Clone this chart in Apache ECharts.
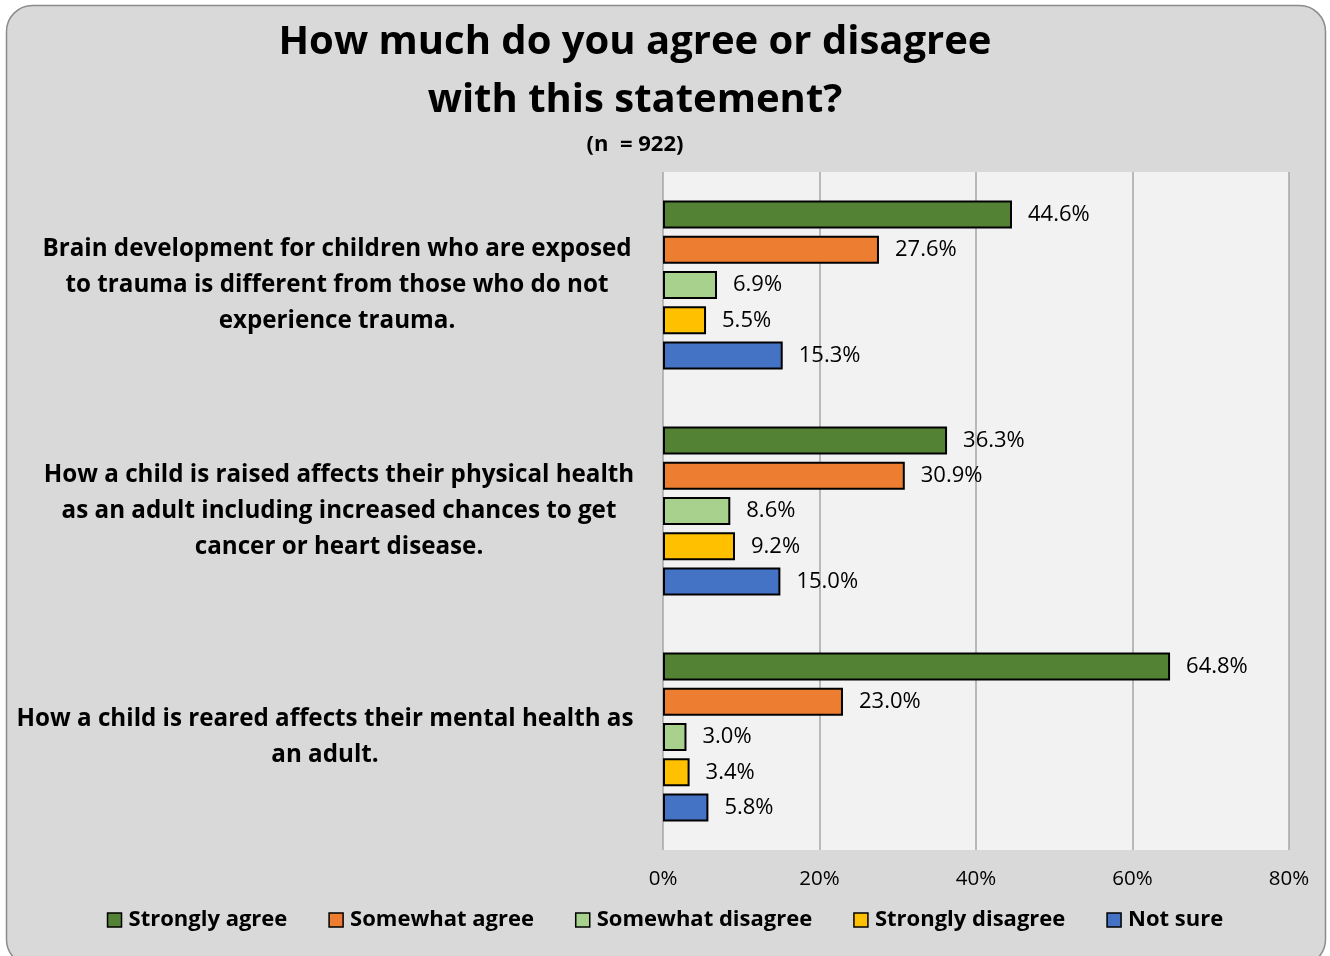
<!DOCTYPE html>
<html>
<head>
<meta charset="utf-8">
<script src="https://cdn.jsdelivr.net/npm/echarts@6/dist/echarts.min.js"></script>
<style>
  html, body { margin: 0; padding: 0; background: #ffffff; }
  #chart { width: 1330px; height: 956px; }
</style>
</head>
<body>
<div id="chart"></div>
<script>
// Survey statements (category axis, top to bottom)
const statements = [
  'Brain development for children who are exposed\nto trauma is different from those who do not\nexperience trauma.',
  'How a child is raised affects their physical health\nas an adult including increased chances to get\ncancer or heart disease.',
  'How a child is reared affects their mental health as\nan adult.'
];

// Response shares (%) per statement
const stronglyAgree     = [44.6, 36.3, 64.8];
const somewhatAgree     = [27.6, 30.9, 23.0];
const somewhatDisagree  = [6.9, 8.6, 3.0];
const stronglyDisagree  = [5.5, 9.2, 3.4];
const notSure           = [15.3, 15.0, 5.8];

const responseNames  = ['Strongly agree', 'Somewhat agree', 'Somewhat disagree', 'Strongly disagree', 'Not sure'];
const responseColors = ['#548235', '#ED7D31', '#A9D18E', '#FFC000', '#4472C4'];
const responseValues = [stronglyAgree, somewhatAgree, somewhatDisagree, stronglyDisagree, notSure];

const FONT = 'Open Sans';

// Statement text blocks are centred; the long last one is pulled left so it ends at the plot edge
const statementPadding = [[0, 0, 0, 4], [0, 0, 0, 8], [0, 20, 0, 0]];

const chart = echarts.init(document.getElementById('chart'), null, { renderer: 'canvas' });

const series = responseNames.map((name, i) => ({
  name: name,
  type: 'bar',
  data: responseValues[i],
  barWidth: 28,
  barGap: '26%',
  barCategoryGap: '25%',
  itemStyle: { color: responseColors[i], borderColor: '#000000', borderWidth: 2 },
  label: {
    show: true,
    position: 'right',
    distance: 16,
    fontFamily: FONT,
    fontSize: 22,
    color: '#000000',
    formatter: p => p.value.toFixed(1) + '%'
  },
  emphasis: { disabled: true }
}));

chart.setOption({
  animation: false,
  backgroundColor: 'transparent',
  graphic: [{
    type: 'rect',
    z: -10,
    shape: { x: 6.5, y: 5.5, width: 1319, height: 960, r: 26 },
    style: { fill: '#d9d9d9', stroke: '#8c8c8c', lineWidth: 1.5 }
  }],
  title: {
    text: 'How much do you agree or disagree\nwith this statement?',
    subtext: '(n  = 922)',
    left: 630,
    textAlign: 'center',
    top: 9,
    itemGap: 4,
    textStyle: { fontFamily: FONT, fontWeight: 'bold', fontSize: 40, lineHeight: 58, color: '#000000' },
    subtextStyle: { fontFamily: FONT, fontWeight: 'bold', fontSize: 22, color: '#000000' }
  },
  legend: {
    data: responseNames,
    bottom: 20,
    left: 'center',
    itemWidth: 14,
    itemHeight: 14,
    itemGap: 41,
    icon: 'rect',
    textStyle: { fontFamily: FONT, fontWeight: 'bold', fontSize: 22, color: '#000000', padding: [0, 0, 0, 2] },
    itemStyle: { borderColor: '#000000', borderWidth: 1.5 }
  },
  grid: {
    left: 663,
    right: 41,
    top: 172,
    bottom: 106,
    outerBoundsMode: 'none',
    containLabel: false,
    show: true,
    backgroundColor: '#f2f2f2',
    borderWidth: 0
  },
  xAxis: {
    type: 'value',
    min: 0,
    max: 80,
    interval: 20,
    axisLine: { show: false },
    axisTick: { show: false },
    splitLine: { show: true, lineStyle: { color: '#a6a6a6', width: 1.5 } },
    axisLabel: {
      fontFamily: FONT,
      fontSize: 20.5,
      color: '#000000',
      margin: 19,
      formatter: v => v + '%'
    }
  },
  yAxis: {
    type: 'category',
    data: statements.map((s, i) => ({
      value: s,
      textStyle: { align: 'center', padding: statementPadding[i] }
    })),
    inverse: true,
    axisLine: { show: false },
    axisTick: { show: false },
    axisLabel: {
      fontFamily: FONT,
      fontWeight: 'bold',
      fontSize: 24.2,
      lineHeight: 36,
      color: '#000000',
      align: 'center',
      margin: 328
    }
  },
  series: series
});
</script>
</body>
</html>
